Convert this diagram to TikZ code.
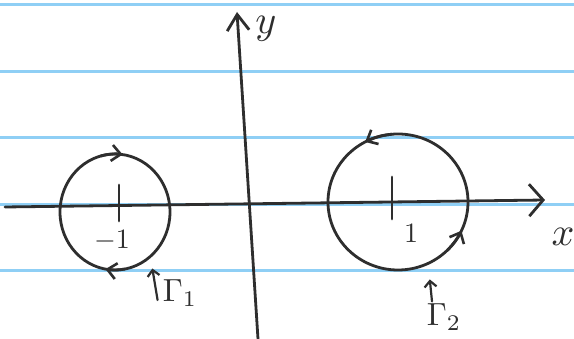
\documentclass[tikz,border=0pt]{standalone}
\usepackage{tikz}
\usetikzlibrary{arrows.meta,shapes.geometric}
\definecolor{ink}{HTML}{2E2E2E}
\definecolor{rule}{HTML}{8FCFF5}
\tikzset{
  paperline/.style={rule, line width=3pt},
  pen/.style={ink, line width=2.8pt, line cap=round, line join=round},
  axisarrow/.style={pen, -{Straight Barb[length=14pt,width=32pt,line width=2.8pt]}},
  yarrow/.style={pen, -{Straight Barb[length=16pt,width=22pt,line width=2.8pt]}},
  flow/.style={pen, -{Straight Barb[length=9pt,width=16pt,line width=2.6pt]}},
  pointer/.style={pen, line width=2.2pt, -{Straight Barb[length=6pt,width=12pt,line width=2.2pt]}},
  loop/.style={pen, draw, ellipse, inner sep=0pt},
  hand/.style={ink, scale=4, inner sep=0.5pt},
  small/.style={ink, scale=2.8, inner sep=0.5pt},
  gam/.style={ink, scale=3.2, inner sep=0.5pt}
}
\begin{document}
\begin{tikzpicture}[x=1pt,y=1pt]
\useasboundingbox (0,0) rectangle (574,339);
\fill[white] (0,0) rectangle (574,339);
% ruled paper
\foreach \yy in {334,267,201,134,68} \draw[paperline] (0,\yy) -- (574,\yy);
% axes
\coordinate (xl) at (5,132);
\coordinate (xr) at (545,139);
\coordinate (yb) at (258,0);
\coordinate (yt) at (237,327);
\draw[axisarrow] (xl) -- (xr);
\draw[yarrow] (yb) -- (yt);
\node[hand] (xlab) at (563,102) {$x$};
\node[hand] (ylab) at (266,310) {$y$};
% contours
\node[loop, minimum width=110pt, minimum height=116pt] (c1) at (115,127) {};
\node[loop, minimum width=140pt, minimum height=136pt] (c2) at (398,137) {};
% ticks
\coordinate (t1a) at (119,154); \coordinate (t1b) at (119,118);
\coordinate (t2a) at (392,162); \coordinate (t2b) at (392,120);
\draw[pen] (t1a) -- (t1b);
\draw[pen] (t2a) -- (t2b);
\node[small] (m1) at (112,98) {$-1$};
\node[small] (p1) at (411,106) {$1$};
% orientation arrows
\draw[flow] ([shift={(105:55pt and 58pt)}]c1.center) arc[start angle=105, end angle=82, x radius=55pt, y radius=58pt];
\draw[flow] ([shift={(-80:55pt and 58pt)}]c1.center) arc[start angle=-80, end angle=-100, x radius=55pt, y radius=58pt];
\draw[flow] ([shift={(95:70pt and 68pt)}]c2.center) arc[start angle=95, end angle=118, x radius=70pt, y radius=68pt];
\draw[flow] ([shift={(-45:70pt and 68pt)}]c2.center) arc[start angle=-45, end angle=-25, x radius=70pt, y radius=68pt];
% labels
\node[gam] (g1) at (180,46) {$\Gamma_1$};
\node[gam] (g2) at (444,22) {$\Gamma_2$};
\draw[pointer] ([shift={(-3pt,-7pt)}]g1.west) -- ([shift={(0pt,-12pt)}]c1.-50);
\draw[pointer] ([xshift=-12pt]g2.north) -- ([shift={(8pt,-12pt)}]c2.-70);
\end{tikzpicture}
\end{document}
